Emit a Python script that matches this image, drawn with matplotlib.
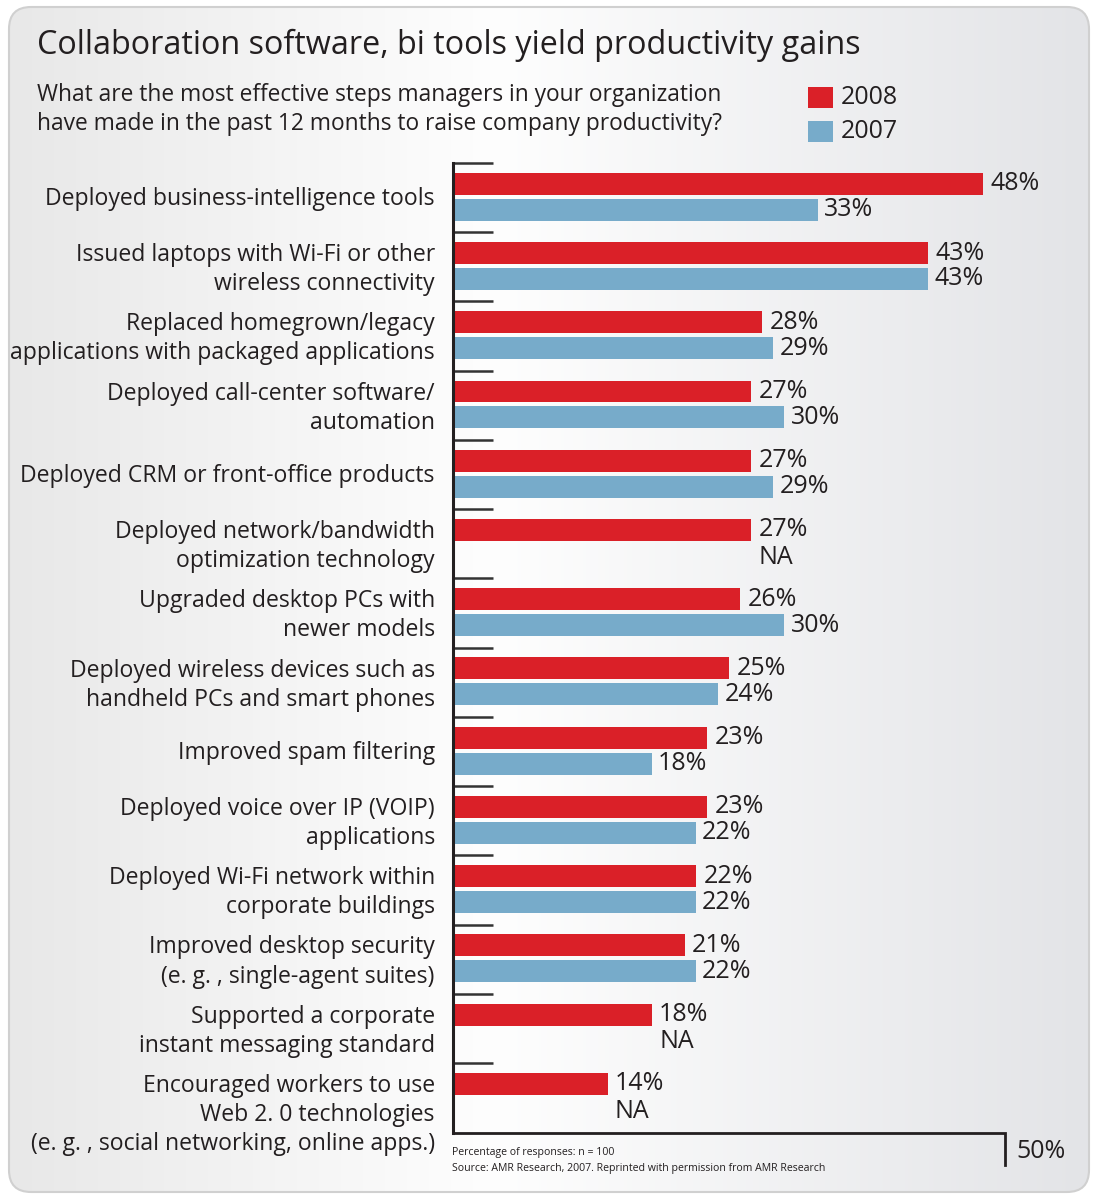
import numpy as np
import matplotlib
matplotlib.use("Agg")
import matplotlib.pyplot as plt
from matplotlib.patches import FancyBboxPatch, Rectangle

plt.rcParams['font.family'] = ['Open Sans', 'DejaVu Sans']

# data
categories = [
    "Deployed business-intelligence tools",
    "Issued laptops with Wi-Fi or other\nwireless connectivity",
    "Replaced homegrown/legacy\napplications with packaged applications",
    "Deployed call-center software/\nautomation",
    "Deployed CRM or front-office products",
    "Deployed network/bandwidth\noptimization technology",
    "Upgraded desktop PCs with\nnewer models",
    "Deployed wireless devices such as\nhandheld PCs and smart phones",
    "Improved spam filtering",
    "Deployed voice over IP (VOIP)\napplications",
    "Deployed Wi-Fi network within\ncorporate buildings",
    "Improved desktop security\n(e. g. , single-agent suites)",
    "Supported a corporate\ninstant messaging standard",
    "Encouraged workers to use\nWeb 2. 0 technologies\n(e. g. , social networking, online apps.)",
]
v2008 = [48, 43, 28, 27, 27, 27, 26, 25, 23, 23, 22, 21, 18, 14]
v2007 = [33, 43, 29, 30, 29, None, 30, 24, 18, 22, 22, 22, None, None]
series_names = ["2008", "2007"]

RED = "#da2028"
BLUE = "#77abca"
INK = "#231f20"

W, H = 1093, 1197
fig = plt.figure(figsize=(W / 100, H / 100), dpi=100)

# background panel with soft gradient
bg = fig.add_axes([0, 0, 1, 1])
bg.set_xlim(0, W)
bg.set_ylim(H, 0)
bg.axis('off')
panel = FancyBboxPatch((9, 7), 1080, 1185, boxstyle="round,pad=0,rounding_size=22",
                       fc='none', ec='#d0d0d0', lw=1.5, zorder=2)
bg.add_patch(panel)
t = np.linspace(0, 1, 500)
r = np.interp(t, [0, 0.45, 1], [232, 254, 227]) / 255
g = np.interp(t, [0, 0.45, 1], [232, 254, 228]) / 255
b = np.interp(t, [0, 0.45, 1], [232, 254, 231]) / 255
grad = np.dstack([r, g, b])
im = bg.imshow(grad, extent=(9, 1089, 1192, 7), aspect='auto', zorder=1)
im.set_clip_path(panel)

bg.text(37, 45, "Collaboration software, bi tools yield productivity gains",
        fontsize=23.3, color=INK, va='center')
bg.text(37, 95, "What are the most effective steps managers in your organization",
        fontsize=16.4, color=INK, va='center')
bg.text(37, 124, "have made in the past 12 months to raise company productivity?",
        fontsize=16.4, color=INK, va='center')

# legend
for k, (name, col) in enumerate(zip(series_names, [RED, BLUE])):
    y0 = 87 + 34 * k
    bg.add_patch(Rectangle((808, y0), 25, 21, fc=col, ec='none', zorder=3))
    bg.text(841, y0 + 10, name, fontsize=18, color=INK, va='center')

bg.text(452, 1152, "Percentage of responses: n = 100", fontsize=7.6, color=INK, va='center')
bg.text(452, 1168, "Source: AMR Research, 2007. Reprinted with permission from AMR Research",
        fontsize=7.6, color=INK, va='center')

# main chart
top_px, bot_px = 163, 1133
ax = fig.add_axes([453 / W, (H - bot_px) / H, 552.5 / W, (bot_px - top_px) / H])
ax.set_xlim(0, 50)
ax.set_ylim(13.71, -0.30)
ax.axis('off')

idx = np.arange(len(categories))
bh = 0.317
off = 0.375
ax.barh(idx, v2008, height=bh, color=RED, zorder=2)
has07 = [i for i, v in enumerate(v2007) if v is not None]
ax.barh([i + off for i in has07], [v2007[i] for i in has07], height=bh, color=BLUE, zorder=2)

for i in idx:
    ax.text(v2008[i] + 0.65, i, f"{v2008[i]}%", fontsize=18, color=INK, va='center')
    if v2007[i] is None:
        ax.text(v2008[i] + 0.65, i + off + 0.02, "NA", fontsize=18, color=INK, va='center')
    else:
        ax.text(v2007[i] + 0.55, i + off, f"{v2007[i]}%", fontsize=18, color=INK, va='center')

    lines = categories[i].split("\n")
    if len(lines) == 1:
        ax.text(-0.033, i + 0.22, lines[0], transform=ax.get_yaxis_transform(),
                ha='right', va='center', fontsize=16.6, color=INK)
    else:
        for k, ln in enumerate(lines):
            ax.text(-0.033, i + 0.03 + 0.42 * k, ln, transform=ax.get_yaxis_transform(),
                    ha='right', va='center', fontsize=16.6, color=INK)

    # group separator tick
    ax.plot([0, 3.6], [i - 0.30, i - 0.30], color='#333333', lw=1.8, clip_on=False,
            solid_capstyle='butt')

ax.plot([0, 0], [-0.30, 13.71], color=INK, lw=2.2, clip_on=False, solid_capstyle='projecting')
ax.plot([0, 50, 50], [13.71, 13.71, 14.17], color=INK, lw=2, clip_on=False,
        solid_joinstyle='miter')
ax.text(50.95, 13.98, "50%", fontsize=18, color=INK, va='center')

fig.savefig("out.png", dpi=100)
